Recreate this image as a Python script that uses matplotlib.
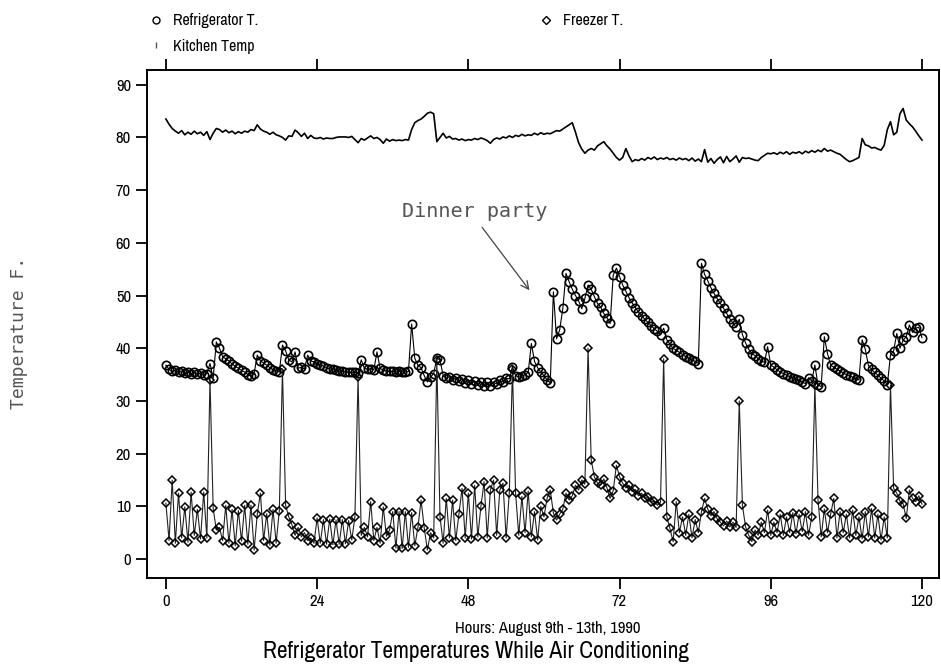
import os
import numpy as np
import matplotlib
matplotlib.use("Agg")
import matplotlib.pyplot as plt
from matplotlib.lines import Line2D
from matplotlib import font_manager as fm
from matplotlib.font_manager import FontProperties

# ---------------- data (hours 0..120 every 0.5 h) ----------------
hours = np.arange(0, 120.01, 0.5)

refrigerator = [
    36.8, 36.0, 35.6, 35.8, 35.4, 35.6, 35.3, 35.5, 35.2, 35.4,   # 0-4.5
    35.1, 35.3, 35.0, 35.2, 37.1, 34.3, 41.2, 40.0, 38.4, 38.0,   # 5-9.5
    37.6, 37.0, 36.6, 36.2, 35.8, 35.5, 35.0, 34.7, 35.2, 38.7,   # 10-14.5
    37.6, 37.2, 36.8, 36.3, 35.9, 35.7, 35.5, 40.6, 39.5, 37.8,   # 15-19.5
    37.4, 39.3, 36.2, 36.4, 36.1, 38.7, 37.6, 37.4, 37.1, 36.8,   # 20-24.5
    36.6, 36.3, 36.1, 36.0, 35.8, 35.7, 35.6, 35.5, 35.5, 35.4,   # 25-29.5
    35.4, 35.3, 37.8, 36.2, 36.0, 36.1, 35.9, 39.3, 36.2, 35.8,   # 30-34.5
    35.7, 35.6, 35.6, 35.5, 35.6, 35.5, 35.5, 35.6, 44.6, 38.1,   # 35-39.5
    36.8, 36.3, 34.8, 33.6, 34.5, 35.2, 38.1, 37.8, 34.8, 34.3,   # 40-44.5
    34.6, 33.9, 34.4, 33.7, 34.2, 33.4, 34.0, 33.2, 33.8, 33.0,   # 45-49.5
    33.6, 32.8, 33.5, 32.9, 33.6, 33.2, 33.9, 33.6, 34.3, 34.2,   # 50-54.5
    36.5, 34.8, 34.5, 34.7, 35.0, 35.4, 40.9, 37.5, 36.3, 35.5,   # 55-59.5
    34.8, 34.0, 33.4, 50.7, 41.8, 43.5, 47.6, 54.2, 52.6, 51.2,   # 60-64.5
    50.0, 49.0, 47.5, 49.5, 52.0, 51.2, 49.8, 48.5, 47.8, 46.6,   # 65-69.5
    45.8, 44.7, 53.9, 55.2, 53.6, 52.0, 50.8, 49.6, 48.6, 47.7,   # 70-74.5
    46.9, 46.2, 45.5, 44.9, 44.3, 43.7, 43.2, 42.6, 43.8, 41.6,   # 75-79.5
    40.8, 40.0, 39.6, 39.2, 38.8, 38.4, 38.1, 37.8, 37.5, 37.1,   # 80-84.5
    56.1, 54.0, 52.8, 51.5, 50.4, 49.4, 48.5, 47.6, 46.6, 45.6,   # 85-89.5
    44.8, 44.0, 45.5, 42.6, 41.0, 39.8, 39.0, 38.6, 38.0, 37.6,   # 90-94.5
    37.3, 40.3, 36.8, 36.4, 35.9, 35.5, 35.2, 34.9, 34.6, 34.4,   # 95-99.5
    34.1, 33.9, 33.6, 33.3, 34.4, 33.8, 36.8, 33.0, 32.7, 42.2,   # 100-104.5
    39.0, 36.8, 36.4, 36.0, 35.7, 35.3, 35.0, 34.8, 34.5, 34.2,   # 105-109.5
    34.0, 41.6, 39.8, 36.7, 36.0, 35.4, 34.9, 34.3, 33.8, 33.1,   # 110-114.5
    38.7, 39.5, 42.8, 40.0, 41.5, 42.2, 44.4, 43.0, 43.8, 44.0,   # 115-119.5
    42.0,                                                         # 120
]

freezer = [
    10.6, 3.5, 15.0, 3.0, 12.5, 4.0, 9.9, 3.2, 12.7, 4.5,         # 0-4.5
    9.4, 3.8, 12.7, 4.0, 34.0, 9.6, 5.5, 6.0, 3.5, 10.2,          # 5-9.5
    3.0, 9.4, 2.5, 9.2, 3.4, 10.2, 2.8, 10.2, 1.7, 8.5,           # 10-14.5
    12.5, 3.5, 8.6, 2.6, 9.4, 3.0, 9.2, 36.0, 10.2, 8.0,          # 15-19.5
    6.5, 4.5, 6.0, 4.2, 5.0, 3.5, 4.0, 3.0, 7.8, 3.0,             # 20-24.5
    7.5, 2.8, 7.6, 2.7, 7.4, 2.8, 7.5, 2.9, 7.3, 3.6,             # 25-29.5
    8.0, 34.6, 4.5, 6.0, 4.2, 10.9, 3.5, 6.0, 3.0, 9.9,           # 30-34.5
    4.3, 5.5, 9.0, 2.1, 9.0, 2.0, 9.0, 2.2, 8.8, 2.5,             # 35-39.5
    6.0, 11.2, 5.9, 1.7, 5.0, 4.0, 37.8, 8.0, 3.0, 11.5,          # 40-44.5
    4.0, 11.2, 3.5, 8.5, 13.4, 4.0, 12.5, 3.8, 14.0, 4.2,         # 45-49.5
    10.0, 14.7, 4.0, 13.1, 15.0, 4.5, 13.1, 14.4, 4.0, 12.5,      # 50-54.5
    36.0, 12.5, 4.5, 11.9, 5.0, 12.9, 4.2, 9.0, 3.6, 10.0,        # 55-59.5
    8.0, 11.5, 13.1, 8.7, 7.4, 8.5, 9.5, 12.5, 11.2, 12.0,        # 60-64.5
    14.0, 13.1, 15.0, 14.2, 40.0, 18.8, 15.6, 14.4, 14.0, 15.2,   # 65-69.5
    13.5, 11.5, 13.0, 17.8, 15.6, 14.4, 13.5, 14.0, 12.8, 13.2,   # 70-74.5
    12.0, 12.5, 11.5, 11.8, 10.8, 11.0, 10.2, 10.8, 38.0, 8.0,    # 75-79.5
    5.8, 3.3, 10.9, 5.0, 8.0, 4.5, 8.5, 4.0, 7.5, 5.0,            # 80-84.5
    9.0, 11.5, 9.5, 8.2, 9.0, 7.6, 7.0, 6.3, 7.2, 6.1,            # 85-89.5
    7.0, 6.0, 30.0, 10.2, 6.1, 4.5, 3.3, 5.5, 4.5, 7.0,           # 90-94.5
    5.0, 9.3, 4.5, 7.0, 5.0, 8.5, 4.5, 8.0, 5.0, 8.8,             # 95-99.5
    4.8, 8.5, 5.2, 9.0, 4.5, 8.0, 33.0, 11.2, 4.2, 9.5,           # 100-104.5
    5.0, 8.5, 11.5, 4.0, 9.0, 5.0, 8.5, 4.0, 9.3, 4.5,            # 105-109.5
    8.0, 3.8, 9.0, 4.2, 9.6, 4.0, 8.5, 3.6, 8.0, 4.0,             # 110-114.5
    33.0, 13.4, 12.5, 11.0, 10.5, 7.7, 13.1, 11.5, 10.9, 12.0,    # 115-119.5
    10.4,                                                         # 120
]

kitchen = [
    83.5, 82.5, 81.7, 81.2, 80.8, 81.3, 80.5, 81.0, 80.6, 81.2,   # 0-4.5
    80.7, 81.0, 80.4, 81.1, 79.6, 80.8, 81.7, 81.5, 81.0, 81.4,   # 5-9.5
    80.9, 81.2, 80.7, 81.1, 80.8, 81.2, 81.0, 81.5, 81.3, 82.4,   # 10-14.5
    81.6, 81.2, 81.0, 80.6, 81.0, 80.5, 80.3, 80.0, 79.5, 80.3,   # 15-19.5
    80.2, 81.4, 80.9, 80.2, 80.8, 79.8, 80.4, 79.9, 79.8, 80.0,   # 20-24.5
    79.7, 79.9, 79.8, 79.8, 80.0, 80.1, 80.1, 80.1, 80.0, 80.2,   # 25-29.5
    79.6, 79.0, 79.8, 79.5, 79.9, 80.3, 79.8, 80.0, 79.6, 78.9,   # 30-34.5
    79.7, 79.3, 79.6, 79.4, 79.5, 79.4, 79.6, 79.5, 81.5, 82.8,   # 35-39.5
    83.2, 83.5, 84.0, 84.6, 84.8, 84.5, 79.2, 80.0, 80.8, 79.9,   # 40-44.5
    80.2, 79.7, 79.8, 79.5, 79.7, 79.4, 79.6, 79.5, 79.8, 79.6,   # 45-49.5
    79.9, 79.7, 79.4, 78.9, 79.6, 79.9, 79.7, 80.1, 79.9, 80.3,   # 50-54.5
    80.0, 80.4, 80.2, 80.6, 80.3, 80.5, 80.4, 80.8, 80.5, 80.9,   # 55-59.5
    80.6, 80.8, 80.7, 81.0, 81.3, 81.2, 81.6, 82.0, 82.4, 82.8,   # 60-64.5
    81.0, 79.0, 77.8, 77.0, 77.6, 77.9, 77.6, 78.4, 78.8, 79.2,   # 65-69.5
    78.4, 77.8, 77.0, 76.2, 75.7, 76.2, 77.9, 76.5, 75.4, 75.8,   # 70-74.5
    75.6, 76.0, 75.7, 76.2, 75.9, 76.3, 75.8, 76.1, 75.9, 76.2,   # 75-79.5
    75.8, 76.0, 75.7, 76.1, 75.8, 76.0, 75.6, 76.1, 75.5, 75.9,   # 80-84.5
    75.4, 77.7, 75.3, 76.0, 75.1, 75.8, 76.3, 75.2, 76.4, 75.4,   # 85-89.5
    75.9, 76.5, 75.3, 76.2, 76.0, 76.1, 75.9, 75.7, 75.6, 76.2,   # 90-94.5
    76.6, 77.0, 76.9, 77.1, 76.8, 77.2, 76.9, 77.3, 76.8, 77.2,   # 95-99.5
    77.0, 77.3, 76.9, 77.4, 77.1, 77.5, 77.2, 77.6, 77.3, 77.9,   # 100-104.5
    77.4, 77.6, 77.3, 77.0, 76.8, 76.3, 75.8, 75.4, 75.6, 75.9,   # 105-109.5
    76.2, 79.8, 78.6, 78.4, 78.0, 78.1, 77.8, 77.6, 78.5, 81.5,   # 110-114.5
    83.0, 80.5, 81.0, 84.5, 85.5, 83.3, 82.6, 82.0, 81.2, 80.3,   # 115-119.5
    79.5,                                                         # 120
]

x_ticks = [0, 24, 48, 72, 96, 120]
y_ticks = [0, 10, 20, 30, 40, 50, 60, 70, 80, 90]
title = "Refrigerator Temperatures While Air Conditioning"
x_label = "Hours: August 9th - 13th, 1990"
y_label = "Temperature F."
note_text = "Dinner party"
note_xy = (57.7, 51.0)
note_text_xy = (49.0, 65.9)
legend_labels = ["Refrigerator T.", "Kitchen Temp", "Freezer T."]


# ---------------- font: look for a narrow / condensed face ----------------
def find_narrow():
    cands = []
    for f in fm.fontManager.ttflist:
        fn = os.path.basename(f.fname).lower()
        if any(k in fn for k in ("bold", "italic", "oblique")):
            continue
        if "narrow" in f.name.lower() or "narrow" in fn:
            cands.append((0, f.fname))
        elif "condensed" in fn or "condensed" in f.name.lower() or f.stretch in ("condensed", "semi-condensed", "extra-condensed"):
            rank = 1 if "dejavu" in fn else 2
            cands.append((rank, f.fname))
    cands.sort()
    return cands[0][1] if cands else None


narrow_path = find_narrow()


def nfont(size):
    if narrow_path:
        return FontProperties(fname=narrow_path, size=size)
    return FontProperties(family="DejaVu Sans", size=size * 0.85)


plt.rcParams["font.family"] = ["DejaVu Sans"]

fig = plt.figure(figsize=(9.41, 6.66), dpi=100)
ax = fig.add_axes([147 / 941, 1 - 578 / 666, (939 - 147) / 941, (578 - 70) / 666])

ax.plot(hours, kitchen, color="black", lw=1.2, zorder=2)
ax.plot(hours, refrigerator, color="black", lw=0.8, marker="o", ms=6.0,
        mfc="none", mec="black", mew=1.2, zorder=3)
ax.plot(hours, freezer, color="#222222", lw=0.8, marker="D", ms=3.8,
        mfc="none", mec="black", mew=1.1, zorder=4)

ax.set_xlim(-3.0, 122.7)
ax.set_ylim(-3.6, 92.8)
ax.set_xticks(x_ticks)
ax.set_yticks(y_ticks)
ax.tick_params(axis="both", direction="out", length=8, width=1.3, colors="black")
ax.tick_params(axis="x", top=True, labeltop=False)
for lab in ax.get_xticklabels() + ax.get_yticklabels():
    lab.set_fontproperties(nfont(12))
for s in ax.spines.values():
    s.set_linewidth(1.4)

ax.annotate(note_text, xy=note_xy, xytext=note_text_xy,
            fontsize=14.5, family="DejaVu Sans Mono", color="#555555",
            ha="center", va="center",
            arrowprops=dict(arrowstyle="->", color="#444444", lw=0.9,
                            relpos=(0.52, 0.0), shrinkA=3, shrinkB=0,
                            mutation_scale=14))

h_ref = Line2D([], [], ls="none", marker="o", ms=5, mfc="none", mec="black", mew=1.0)
h_kit = Line2D([], [], ls="none", marker="|", ms=4, mec="#555555", mew=1.0)
h_frz = Line2D([], [], ls="none", marker="D", ms=3.6, mfc="none", mec="black", mew=1.0)
leg = fig.legend([h_ref, h_kit, h_frz], legend_labels,
                 ncol=2, loc="upper left", bbox_to_anchor=(138 / 941, 1 - 2 / 666),
                 frameon=False, prop=nfont(11.5), handlelength=0.8, handletextpad=0.7,
                 columnspacing=17.6, labelspacing=0.65, borderpad=0.2)

t_x = fig.text(548 / 941, 1 - 628 / 666, x_label, ha="center", va="center",
               fontproperties=nfont(11.5))
t_title = fig.text(476 / 941, 1 - 652 / 666, title, ha="center", va="center",
                   fontproperties=nfont(16))
fig.text(19 / 941, 1 - 333 / 666, y_label, ha="center", va="center", rotation=90,
         fontsize=13, family="DejaVu Sans Mono", color="#555555")


# fit widths of the two bottom texts to the reference
def fit_width(txt, target_px):
    fig.canvas.draw()
    r = fig.canvas.get_renderer()
    w = txt.get_window_extent(r).width
    fp = txt.get_fontproperties()
    fp.set_size(fp.get_size() * target_px / w)
    txt.set_fontproperties(fp)


fit_width(t_title, 428)
fit_width(t_x, 186)

fig.savefig("out.png", dpi=100)
